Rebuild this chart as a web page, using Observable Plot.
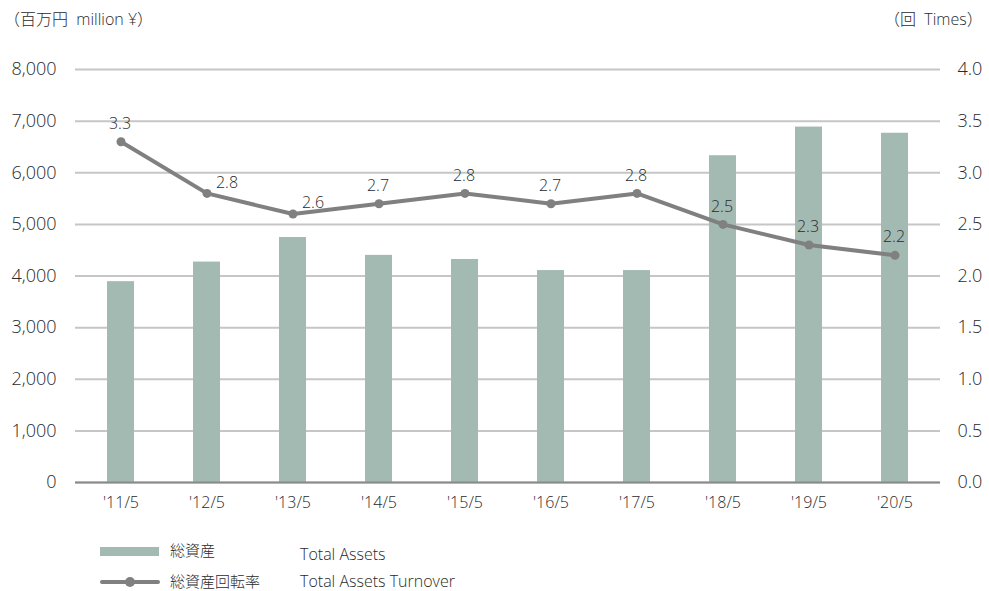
<!DOCTYPE html>
<html>
<head>
<meta charset="utf-8">
<script src="https://cdn.jsdelivr.net/npm/d3@7"></script>
<script src="https://cdn.jsdelivr.net/npm/@observablehq/plot@0.6"></script>
<style>
  body { margin: 0; background: #fff; font-family: "Open Sans", "Noto Sans CJK JP", sans-serif; font-weight: 300; color: #2a2a2a; }
  #wrap { position: relative; width: 989px; }
  #header { position: relative; height: 36px; font-size: 16px; }
  #header .l { position: absolute; left: 4px; top: 6px; }
  #header .r { position: absolute; left: 884px; top: 6px; }
  #legend { position: relative; height: 69px; font-size: 15px; overflow: visible; }
  #legend .sw { position: absolute; left: 100px; width: 59px; height: 9px; background: #a2bab2; top: 25px; }
  #legend .ln { position: absolute; left: 100px; width: 60px; height: 4px; background: #808080; top: 58px; border-radius: 2px; }
  #legend .dt { position: absolute; left: 125px; width: 10px; height: 10px; background: #808080; top: 55px; border-radius: 5px; }
  #legend .t { position: absolute; white-space: nowrap; line-height: 18px; }
  #legend .en { font-size: 16px; }
  svg text { font-weight: 300; }
</style>
</head>
<body>
<div id="wrap">
  <div id="header"><span class="l">（百万円&nbsp; million ¥）</span><span class="r">（回&nbsp; Times）</span></div>
  <div id="chart"></div>
  <div id="legend">
    <div class="sw"></div>
    <div class="t" style="left:170px; top:19px;">総資産</div>
    <div class="t en" style="left:300px; top:23px;">Total Assets</div>
    <div class="ln"></div><div class="dt"></div>
    <div class="t" style="left:170px; top:50px;">総資産回転率</div>
    <div class="t en" style="left:300px; top:50px;">Total Assets Turnover</div>
  </div>
</div>
<script>
const categories = ["'11/5", "'12/5", "'13/5", "'14/5", "'15/5", "'16/5", "'17/5", "'18/5", "'19/5", "'20/5"];
const totalAssets = [3890, 4270, 4745, 4400, 4320, 4105, 4105, 6330, 6885, 6765];
const turnover = [3.3, 2.8, 2.6, 2.7, 2.8, 2.7, 2.8, 2.5, 2.3, 2.2];
const leftTicks = [0, 1000, 2000, 3000, 4000, 5000, 6000, 7000, 8000];
const rightTicks = [0, 0.5, 1, 1.5, 2, 2.5, 3, 3.5, 4];

const ratio = 8000 / 4;
const data = categories.map((c, i) => ({ cat: c, assets: totalAssets[i], turn: turnover[i] }));
const shifted = new Set(["'12/5", "'13/5"]);

const chart = Plot.plot({
  width: 989,
  height: 486,
  marginTop: 33,
  marginBottom: 40,
  marginLeft: 75,
  marginRight: 49,
  style: { fontFamily: "'Open Sans', 'Noto Sans CJK JP', sans-serif", fontSize: "16px", color: "#2a2a2a" },
  x: { domain: categories, paddingInner: 0.69, paddingOuter: 0.345, label: null },
  y: { domain: [0, 8000], label: null },
  marks: [
    Plot.gridY(leftTicks, { stroke: "#c6c6c6", strokeOpacity: 1, strokeWidth: 2 }),
    Plot.axisY(leftTicks, { anchor: "left", tickSize: 0, tickPadding: 19, tickFormat: d => d3.format(",")(d), label: null, fontSize: 18 }),
    Plot.axisY(rightTicks.map(v => v * ratio), { anchor: "right", tickSize: 0, tickPadding: 17, tickFormat: d => (d / ratio).toFixed(1), label: null, fontSize: 18 }),
    Plot.axisX({ tickSize: 0, tickPadding: 14, label: null, fontSize: 16 }),
    Plot.barY(data, { x: "cat", y: "assets", fill: "#a2bab2" }),
    Plot.ruleY([0], { stroke: "#8a8a8a", strokeWidth: 2 }),
    Plot.line(data, { x: "cat", y: d => d.turn * ratio, stroke: "#808080", strokeWidth: 4 }),
    Plot.dot(data, { x: "cat", y: d => d.turn * ratio, r: 4.5, fill: "#808080" }),
    Plot.text(data.filter(d => !shifted.has(d.cat)), { x: "cat", y: d => d.turn * ratio, text: d => d.turn.toFixed(1), dx: -1, dy: -18, fontSize: 16, fill: "#2a2a2a" }),
    Plot.text(data.filter(d => shifted.has(d.cat)), { x: "cat", y: d => d.turn * ratio, text: d => d.turn.toFixed(1), dx: 20, dy: -11, fontSize: 16, fill: "#2a2a2a" })
  ]
});
document.getElementById("chart").appendChild(chart);
</script>
</body>
</html>
